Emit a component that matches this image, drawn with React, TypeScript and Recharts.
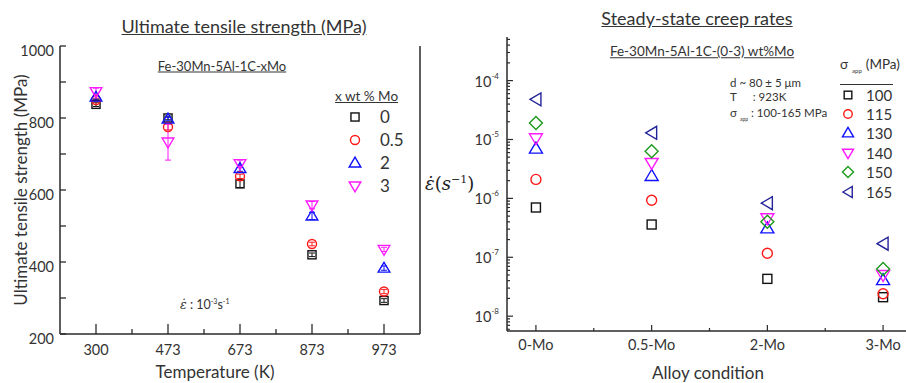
import React from "react";
import { ScatterChart, Scatter, XAxis, YAxis, ErrorBar, Legend } from "recharts";

// ---- left panel: ultimate tensile strength ----
const temperatures = ["300", "473", "673", "873", "973"];
const moLabels = ["0", "0.5", "2", "3"];
const uts0 = [838, 800, 617, 420, 293];
const uts05 = [850, 775, 638, 450, 318];
const uts2 = [858, 797, 660, 528, 383];
const uts3 = [873, 733, 673, 558, 435];
const utsErr0 = [6, 5, 10, 5, 5];
const utsErr05 = [5, 8, 6, 5, 6];
const utsErr2 = [6, 5, 8, 10, 6];
const utsErr3 = [10, 50, 10, 10, 6];
const utsTicks = [200, 300, 400, 500, 600, 700, 800, 900, 1000];
const tempTicks = [0, 0.5, 1, 1.5, 2, 2.5, 3, 3.5, 4];

// ---- right panel: steady-state creep rates ----
const alloys = ["0-Mo", "0.5-Mo", "2-Mo", "3-Mo"];
const stressLabels = ["100", "115", "130", "140", "150", "165"];
const rate100 = [7e-7, 3.6e-7, 4.3e-8, 2.1e-8];
const rate115 = [2.1e-6, 9.3e-7, 1.17e-7, 2.4e-8];
const rate130 = [7e-6, 2.4e-6, 3.1e-7, 4.1e-8];
const rate140 = [1.05e-5, 4e-6, 4.6e-7, 5e-8];
const rate150 = [1.9e-5, 6.3e-6, 4e-7, 6.3e-8];
const rate165 = [4.8e-5, 1.3e-5, 8.3e-7, 1.7e-7];
const alloyTicks = [0, 0.5, 1, 1.5, 2, 2.5, 3];
const decades = [1e-8, 1e-7, 1e-6, 1e-5, 1e-4];

const LOG_MIN = 5.6e-9;
const LOG_MAX = 5.5e-4;
const logTicks: number[] = [];
for (let e = -9; e <= -4; e++) {
  for (let m = 1; m <= 9; m++) {
    const v = m * Math.pow(10, e);
    if (v >= LOG_MIN && v <= LOG_MAX) logTicks.push(v);
  }
}

const FONT = "Lato, 'Open Sans', sans-serif";
const TXT = "#333";
const AX = "#2a2a2a";

type Kind = "square" | "circle" | "up" | "down" | "diamond" | "left";

function Marker({ kind, cx, cy, color, s = 1 }: { kind: Kind; cx: number; cy: number; color: string; s?: number }) {
  const p = { fill: "none", stroke: color, strokeWidth: 1.4 };
  switch (kind) {
    case "square":
      return <rect x={cx - 4.5 * s} y={cy - 4.5 * s} width={9 * s} height={9 * s} {...p} />;
    case "circle":
      return <circle cx={cx} cy={cy} r={5 * s} {...p} />;
    case "up":
      return <polygon points={`${cx},${cy - 6.5 * s} ${cx - 6.5 * s},${cy + 4.5 * s} ${cx + 6.5 * s},${cy + 4.5 * s}`} {...p} />;
    case "down":
      return <polygon points={`${cx},${cy + 6.5 * s} ${cx - 6.5 * s},${cy - 4.5 * s} ${cx + 6.5 * s},${cy - 4.5 * s}`} {...p} />;
    case "diamond":
      return <polygon points={`${cx},${cy - 6.5 * s} ${cx + 6.5 * s},${cy} ${cx},${cy + 6.5 * s} ${cx - 6.5 * s},${cy}`} {...p} />;
    default:
      return <polygon points={`${cx - 6 * s},${cy} ${cx + 5 * s},${cy - 6.5 * s} ${cx + 5 * s},${cy + 6.5 * s}`} {...p} />;
  }
}

const utsSeries = [
  { name: moLabels[0], values: uts0, err: utsErr0, kind: "square" as Kind, color: "#111" },
  { name: moLabels[1], values: uts05, err: utsErr05, kind: "circle" as Kind, color: "#ff1a1a" },
  { name: moLabels[2], values: uts2, err: utsErr2, kind: "up" as Kind, color: "#1010ff" },
  { name: moLabels[3], values: uts3, err: utsErr3, kind: "down" as Kind, color: "#ff1aff" },
];

const creepSeries = [
  { name: stressLabels[0], values: rate100, kind: "square" as Kind, color: "#111" },
  { name: stressLabels[1], values: rate115, kind: "circle" as Kind, color: "#ff1a1a" },
  { name: stressLabels[2], values: rate130, kind: "up" as Kind, color: "#1010ff" },
  { name: stressLabels[3], values: rate140, kind: "down" as Kind, color: "#ff1aff" },
  { name: stressLabels[4], values: rate150, kind: "diamond" as Kind, color: "#1f9a1f" },
  { name: stressLabels[5], values: rate165, kind: "left" as Kind, color: "#23239a" },
];

// ---- ticks ----
const LeftYTick = (p: any) => {
  const v = p.payload.value;
  return (
    <g>
      <line x1={p.x} y1={p.y} x2={p.x + 6} y2={p.y} stroke={AX} strokeWidth={1.3} />
      {v % 200 === 0 && (
        <text x={p.x - 6} y={p.y + 10} textAnchor="end" fontSize={14.5} fill={TXT} fontFamily={FONT}>
          {v}
        </text>
      )}
    </g>
  );
};
const InwardRightTick = (p: any) => <line x1={p.x} y1={p.y} x2={p.x - 5} y2={p.y} stroke={AX} strokeWidth={1.3} />;
const LeftBottomTick = (p: any) => {
  const v = p.payload.value;
  const major = Number.isInteger(v);
  return (
    <g>
      <line x1={p.x} y1={p.y} x2={p.x} y2={p.y - (major ? 10 : 5)} stroke={AX} strokeWidth={1.3} />
      {major && (
        <text x={p.x} y={p.y + 21} textAnchor="middle" fontSize={14.5} fill={TXT} fontFamily={FONT}>
          {temperatures[v]}
        </text>
      )}
    </g>
  );
};
const LeftTopTick = (p: any) => {
  const major = Number.isInteger(p.payload.value);
  return <line x1={p.x} y1={p.y} x2={p.x} y2={p.y + (major ? 10 : 5)} stroke={AX} strokeWidth={1.3} />;
};

const isDecade = (v: number) => Math.abs(Math.log10(v) - Math.round(Math.log10(v))) < 1e-6;
const LogTick = (p: any) => {
  const v = p.payload.value;
  const major = isDecade(v);
  return (
    <g>
      <line x1={p.x} y1={p.y} x2={p.x + (major ? 6 : 3)} y2={p.y} stroke={AX} strokeWidth={1.2} />
      {major && (
        <text x={p.x - 8} y={p.y + 6} textAnchor="end" fontSize={14.5} fill={TXT} fontFamily={FONT}>
          10
          <tspan dy={-8} fontSize={8}>
            {Math.round(Math.log10(v))}
          </tspan>
        </text>
      )}
    </g>
  );
};
const RightBottomTick = (p: any) => {
  const v = p.payload.value;
  const major = Number.isInteger(v);
  return (
    <g>
      <line x1={p.x} y1={p.y} x2={p.x} y2={p.y - (major ? 6 : 3)} stroke={AX} strokeWidth={1.2} />
      {major && (
        <text x={p.x} y={p.y + 19} textAnchor="middle" fontSize={14.5} fill={TXT} fontFamily={FONT}>
          {alloys[v]}
        </text>
      )}
    </g>
  );
};
const RightTopTick = (p: any) => <line x1={p.x} y1={p.y} x2={p.x} y2={p.y + 5} stroke={AX} strokeWidth={1.2} />;
const RightDecadeTick = (p: any) => <line x1={p.x} y1={p.y} x2={p.x - 6} y2={p.y} stroke={AX} strokeWidth={1.2} />;

const Txt = ({ x, y, size, anchor = "start", children, style }: any) => (
  <div
    style={{
      position: "absolute",
      left: x,
      top: y,
      transform: `translate(${anchor === "middle" ? "-50%" : "0"}, -50%)`,
      fontSize: size,
      lineHeight: 1,
      whiteSpace: "nowrap",
      color: TXT,
      fontFamily: FONT,
      ...style,
    }}
  >
    {children}
  </div>
);

const axisLine = { stroke: AX, strokeWidth: 1.5 };

export default function App() {
  return (
    <div style={{ position: "fixed", left: 0, top: 0, width: 906, height: 383, overflow: "hidden", background: "#fff", fontFamily: FONT }}>
      <div style={{ position: "absolute", left: 0, top: 0 }}>
        <ScatterChart width={450} height={383} margin={{ top: 46, right: 0, bottom: 0, left: 0 }}>
          <XAxis type="number" dataKey="x" domain={[-0.5, 4.5]} ticks={tempTicks} interval={0} height={49} tickSize={0} tickMargin={0} tickLine={false} axisLine={axisLine} tick={<LeftBottomTick />} />
          <XAxis xAxisId="top" orientation="top" type="number" domain={[-0.5, 4.5]} ticks={tempTicks} interval={0} height={0} tickSize={0} tickMargin={0} tickLine={false} axisLine={axisLine} tick={<LeftTopTick />} />
          <YAxis type="number" dataKey="y" domain={[200, 1000]} ticks={utsTicks} interval={0} width={60} tickSize={0} tickMargin={0} tickLine={false} axisLine={axisLine} tick={<LeftYTick />} />
          <YAxis yAxisId="right" orientation="right" type="number" domain={[200, 1000]} ticks={utsTicks} interval={0} width={30} tickSize={0} tickMargin={0} tickLine={false} axisLine={axisLine} tick={<InwardRightTick />} />
          {utsSeries.map((s) => (
            <Scatter
              key={s.name}
              name={s.name}
              data={temperatures.map((t, i) => ({ x: i, y: s.values[i], err: s.err[i] }))}
              isAnimationActive={false}
              shape={(p: any) => <Marker kind={s.kind} cx={p.cx} cy={p.cy} color={s.color} s={0.9} />}
            >
              <ErrorBar dataKey="err" direction="y" width={3} stroke={s.color} strokeWidth={1} />
            </Scatter>
          ))}
          <Legend
            layout="vertical"
            align="center"
            verticalAlign="middle"
            wrapperStyle={{ left: 333, top: 87, width: 80 }}
            content={() => (
              <div style={{ fontFamily: FONT, color: TXT }}>
                <div style={{ fontSize: 13.5, lineHeight: "18px", textDecoration: "underline", marginLeft: 2 }}>x wt % Mo</div>
                {utsSeries.map((s) => (
                  <div key={s.name} style={{ display: "flex", alignItems: "center", height: 23 }}>
                    <svg width={16} height={16} style={{ marginLeft: 14 }}>
                      <Marker kind={s.kind} cx={8} cy={8} color={s.color} s={0.9} />
                    </svg>
                    <span style={{ marginLeft: 17, fontSize: 17 }}>{s.name}</span>
                  </div>
                ))}
              </div>
            )}
          />
        </ScatterChart>
      </div>

      <div style={{ position: "absolute", left: 450, top: 0 }}>
        <ScatterChart width={462} height={383} margin={{ top: 37, right: 0, bottom: 0, left: 0 }}>
          <XAxis type="number" dataKey="x" domain={[-0.25, 3.25]} ticks={alloyTicks} interval={0} height={52} tickSize={0} tickMargin={0} tickLine={false} axisLine={axisLine} tick={<RightBottomTick />} />
          <XAxis xAxisId="top" orientation="top" type="number" domain={[-0.25, 3.25]} ticks={alloyTicks} interval={0} height={0} tickSize={0} tickMargin={0} tickLine={false} axisLine={axisLine} tick={<RightTopTick />} />
          <YAxis type="number" dataKey="y" scale="log" domain={[LOG_MIN, LOG_MAX]} allowDataOverflow ticks={logTicks} interval={0} width={57} tickSize={0} tickMargin={0} tickLine={false} axisLine={axisLine} tick={<LogTick />} />
          <YAxis yAxisId="right" orientation="right" type="number" scale="log" domain={[LOG_MIN, LOG_MAX]} allowDataOverflow ticks={decades} interval={0} width={0} tickSize={0} tickMargin={0} tickLine={false} axisLine={axisLine} tick={<RightDecadeTick />} />
          {creepSeries.map((s) => (
            <Scatter
              key={s.name}
              name={s.name}
              data={alloys.map((a, i) => ({ x: i, y: s.values[i] }))}
              isAnimationActive={false}
              shape={(p: any) => <Marker kind={s.kind} cx={p.cx} cy={p.cy} color={s.color} />}
            />
          ))}
          <Legend
            layout="vertical"
            align="center"
            verticalAlign="middle"
            wrapperStyle={{ left: 388, top: 56, width: 80 }}
            content={() => (
              <div style={{ fontFamily: FONT, color: TXT }}>
                <div style={{ fontSize: 13.5, lineHeight: "16px", marginLeft: 2 }}>
                  σ<span style={{ fontSize: 6, verticalAlign: -4, margin: "0 4px" }}>app</span>(MPa)
                </div>
                <div style={{ width: 53, borderTop: `1px solid ${TXT}`, marginLeft: 2, marginTop: 5 }} />
                {creepSeries.map((s) => (
                  <div key={s.name} style={{ display: "flex", alignItems: "center", height: 19.4 }}>
                    <svg width={16} height={16} style={{ marginLeft: 2 }}>
                      <Marker kind={s.kind} cx={8} cy={8} color={s.color} s={0.85} />
                    </svg>
                    <span style={{ marginLeft: 10, fontSize: 15 }}>{s.name}</span>
                  </div>
                ))}
              </div>
            )}
          />
        </ScatterChart>
      </div>

      {/* titles and annotations */}
      <Txt x={244} y={26} size={18} anchor="middle" style={{ textDecoration: "underline" }}>Ultimate tensile strength (MPa)</Txt>
      <Txt x={222} y={66} size={13} anchor="middle" style={{ textDecoration: "underline" }}>Fe-30Mn-5Al-1C-xMo</Txt>
      <Txt x={215} y={371} size={17} anchor="middle">Temperature (K)</Txt>
      <div style={{ position: "absolute", left: 20, top: 190, transform: "translate(-50%, -50%) rotate(-90deg)", fontSize: 17, lineHeight: 1, whiteSpace: "nowrap", color: TXT, fontFamily: FONT }}>
        Ultimate tensile strength (MPa)
      </div>
      <Txt x={180} y={305} size={12.5}>
        <span style={{ fontFamily: "'DejaVu Serif', serif", fontStyle: "italic" }}>ε̇</span> : 10
        <sup style={{ fontSize: 7 }}>-3</sup>s<sup style={{ fontSize: 7 }}>-1</sup>
      </Txt>

      <Txt x={697} y={18} size={18} anchor="middle" style={{ textDecoration: "underline" }}>Steady-state creep rates</Txt>
      <Txt x={702} y={52} size={13.5} anchor="middle" style={{ textDecoration: "underline" }}>Fe-30Mn-5Al-1C-(0-3) wt%Mo</Txt>
      <Txt x={708} y={372} size={17} anchor="middle">Alloy condition</Txt>
      <Txt x={730} y={83} size={11.5}>d ~ 80 ± 5 μm</Txt>
      <Txt x={730} y={97} size={11.5}>
        T<span style={{ marginLeft: 16 }}>: 923K</span>
      </Txt>
      <Txt x={730} y={114} size={11.5}>
        σ<span style={{ fontSize: 5, verticalAlign: -4, margin: "0 3px" }}>app</span>: 100-165 MPa
      </Txt>
      <Txt x={425} y={183} size={18} style={{ fontFamily: "'DejaVu Serif', 'Liberation Serif', serif", color: "#222" }}>
        <i>ε̇</i>(<i>s</i>
        <sup style={{ fontSize: 11 }}>−1</sup>)
      </Txt>
    </div>
  );
}
